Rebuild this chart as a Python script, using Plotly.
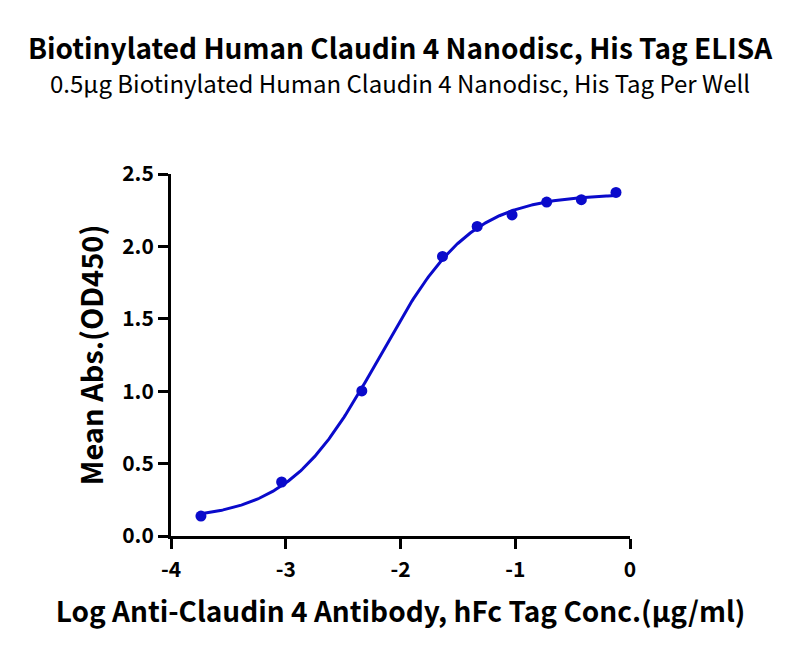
import numpy as np
import plotly.graph_objects as go

# Data
log_conc = [-3.739, -3.036, -2.337, -1.634, -1.332, -1.028, -0.726, -0.424, -0.122]
mean_abs = [0.138, 0.373, 1.002, 1.931, 2.138, 2.217, 2.306, 2.323, 2.373]

x_ticks = [-4, -3, -2, -1, 0]
x_tick_labels = ["-4", "-3", "-2", "-1", "0"]
y_ticks = [0.0, 0.5, 1.0, 1.5, 2.0, 2.5]
y_tick_labels = ["0.0", "0.5", "1.0", "1.5", "2.0", "2.5"]

title = "Biotinylated Human Claudin 4 Nanodisc, His Tag ELISA"
subtitle = "0.5μg Biotinylated Human Claudin 4 Nanodisc, His Tag Per Well"
x_title = "Log Anti-Claudin 4 Antibody, hFc Tag Conc.(μg/ml)"
y_title = "Mean Abs.(OD450)"


# 4-parameter logistic fit of the data (as the original software does)
def four_pl(x, p):
    bottom, top, logec50, hill = p
    return bottom + (top - bottom) / (1.0 + 10.0 ** ((logec50 - x) * hill))


def fit_4pl(x, y, p0):
    x = np.asarray(x, float)
    y = np.asarray(y, float)
    p = np.asarray(p0, float)
    lam = 1e-3
    for _ in range(500):
        r = y - four_pl(x, p)
        J = np.zeros((len(x), len(p)))
        for j in range(len(p)):
            dp = np.zeros_like(p)
            dp[j] = 1e-6
            J[:, j] = (four_pl(x, p + dp) - four_pl(x, p - dp)) / 2e-6
        A = J.T @ J
        g = J.T @ r
        step = np.linalg.solve(A + lam * np.diag(np.diag(A)), g)
        pn = p + step
        if np.sum((y - four_pl(x, pn)) ** 2) < np.sum(r ** 2):
            p = pn
            lam *= 0.5
        else:
            lam *= 4
    return p


params = fit_4pl(log_conc, mean_abs, [0.05, 2.37, -2.2, 1.0])
curve_x = np.linspace(min(log_conc), max(log_conc), 300)
curve_y = four_pl(curve_x, params)

blue = "#0A0ACB"
font_family = "Noto Sans CJK SC, Source Sans Pro, Noto Sans, sans-serif"

W, H = 800, 656
ML, MT = 163, 166
PW, PH = 459, 362
MR, MB = W - ML - PW, H - MT - PH

fig = go.Figure()
fig.add_trace(go.Scatter(x=curve_x, y=curve_y, mode="lines",
                         line=dict(color=blue, width=3), hoverinfo="skip",
                         showlegend=False))
fig.add_trace(go.Scatter(x=log_conc, y=mean_abs, mode="markers",
                         marker=dict(color=blue, size=11, symbol="circle"),
                         showlegend=False))


def px_to_paper(xp, yp):
    return (xp - ML) / PW, (H - MB - yp) / PH


tx, ty = px_to_paper(392, 39)
sx, sy = px_to_paper(392, 75)

fig.update_layout(
    width=W, height=H,
    margin=dict(l=ML, r=MR, t=MT, b=MB),
    paper_bgcolor="white", plot_bgcolor="white",
    font=dict(family=font_family, color="black"),
    annotations=[
        dict(text="<b>" + title + "</b>", x=tx, y=ty, xref="paper", yref="paper",
             xanchor="center", yanchor="middle", showarrow=False,
             font=dict(size=28, family=font_family, color="black")),
        dict(text=subtitle, x=sx, y=sy, xref="paper", yref="paper",
             xanchor="center", yanchor="middle", showarrow=False,
             font=dict(size=24, family=font_family, color="black")),
    ],
)

fig.update_xaxes(
    range=[-4, 0], tickvals=x_ticks, ticktext=x_tick_labels,
    showline=True, linecolor="black", linewidth=3,
    ticks="outside", ticklen=10, tickwidth=3, tickcolor="black",
    showgrid=False, zeroline=False, ticklabelstandoff=3,
    tickfont=dict(size=21, family=font_family, color="black", weight="bold"),
    title=dict(text="<b>" + x_title + "</b>", font=dict(size=28, family=font_family), standoff=21),
)
fig.update_yaxes(
    range=[0, 2.5], tickvals=y_ticks, ticktext=y_tick_labels,
    showline=True, linecolor="black", linewidth=3,
    ticks="outside", ticklen=10, tickwidth=3, tickcolor="black",
    showgrid=False, zeroline=False,
    tickfont=dict(size=21, family=font_family, color="black", weight="bold"),
    title=dict(text="<b>" + y_title + "</b>", font=dict(size=29, family=font_family), standoff=11),
)

fig.write_html("out.html")
